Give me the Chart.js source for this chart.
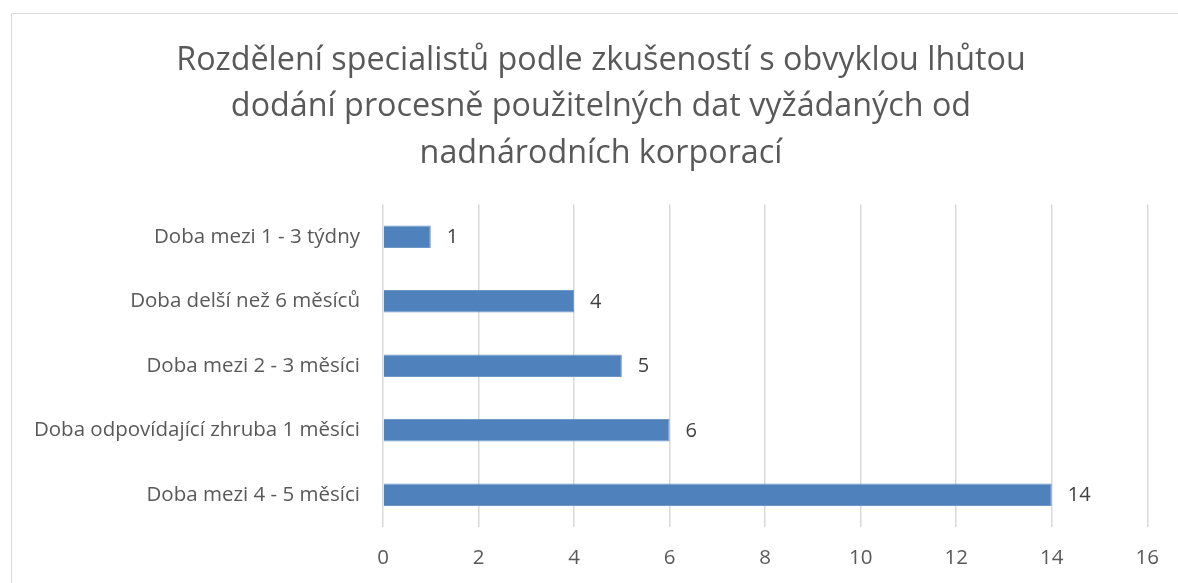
<!DOCTYPE html>
<html>
<head>
<meta charset="utf-8">
<script src="https://cdn.jsdelivr.net/npm/chart.js@4"></script>
<style>
  html, body { margin: 0; padding: 0; background: #fff; }
  #wrap { position: relative; width: 1178px; height: 583px; overflow: hidden; }
  #frame { position: absolute; left: 11px; top: 13px; width: 1200px; height: 600px; border: 1px solid #d9d9d9; }
  canvas { position: absolute; left: 0; top: 0; }
</style>
</head>
<body>
<div id="wrap">
  <div id="frame"></div>
  <canvas id="myChart" width="1178" height="583"></canvas>
</div>
<script>
// Data
const categories = [
  'Doba mezi 1 - 3 týdny',
  'Doba delší než 6 měsíců',
  'Doba mezi 2 - 3 měsíci',
  'Doba odpovídající zhruba 1 měsíci',
  'Doba mezi 4 - 5 měsíci'
];
const values = [1, 4, 5, 6, 14];
const titleLines = [
  'Rozdělení specialistů podle zkušeností s obvyklou lhůtou',
  'dodání procesně použitelných dat vyžádaných od',
  'nadnárodních korporací'
];
const xTicks = [0, 2, 4, 6, 8, 10, 12, 14, 16];

const fontFamily = "'Open Sans', 'Noto Sans', sans-serif";
const textColor = '#595959';

// Popisky hodnot na konci sloupců
const barLabels = {
  id: 'barLabels',
  afterLayout(chart) {
    // aby se dlouhý popisek kategorie neořízl
    chart.scales.y.left = 0;
  },
  afterDatasetsDraw(chart) {
    const ctx = chart.ctx;
    const meta = chart.getDatasetMeta(0);
    ctx.save();
    ctx.font = '20px ' + fontFamily;
    ctx.fillStyle = '#404040';
    ctx.textAlign = 'left';
    ctx.textBaseline = 'middle';
    meta.data.forEach((bar, i) => {
      ctx.fillText(String(values[i]), bar.x + 16, bar.y + 1);
    });
    ctx.restore();
  }
};

const padLeft = 51;

const ctx = document.getElementById('myChart').getContext('2d');
const chart = new Chart(ctx, {
  type: 'bar',
  data: {
    labels: categories,
    datasets: [{
      data: values,
      backgroundColor: '#4f81bd',
      borderColor: '#6f97c8',
      borderWidth: 1,
      barPercentage: 0.7,
      categoryPercentage: 0.5
    }]
  },
  options: {
    indexAxis: 'y',
    responsive: false,
    animation: false,
    layout: { padding: { left: padLeft, right: 27, top: 37, bottom: 0 } },
    plugins: {
      legend: { display: false },
      tooltip: { enabled: false },
      title: {
        display: true,
        text: titleLines,
        color: textColor,
        font: { family: fontFamily, size: 32.3, weight: 'normal', lineHeight: 1.45 },
        padding: { top: 0, bottom: 27 }
      }
    },
    scales: {
      x: {
        min: 0,
        max: 16,
        afterBuildTicks: (s) => { s.ticks = xTicks.map(v => ({ value: v })); },
        afterFit: (s) => { s.height = 583 - 527; },
        grid: { color: '#d9d9d9', lineWidth: 1.5, drawTicks: false },
        border: { display: false },
        ticks: { color: textColor, font: { family: fontFamily, size: 20.5 }, padding: 19 }
      },
      y: {
        afterFit: (s) => { s.width = 383 - padLeft; },
        grid: { display: false, drawTicks: false },
        border: { display: false },
        ticks: { color: textColor, font: { family: fontFamily, size: 20.5 }, padding: 23 }
      }
    }
  },
  plugins: [barLabels]
});
</script>
</body>
</html>
